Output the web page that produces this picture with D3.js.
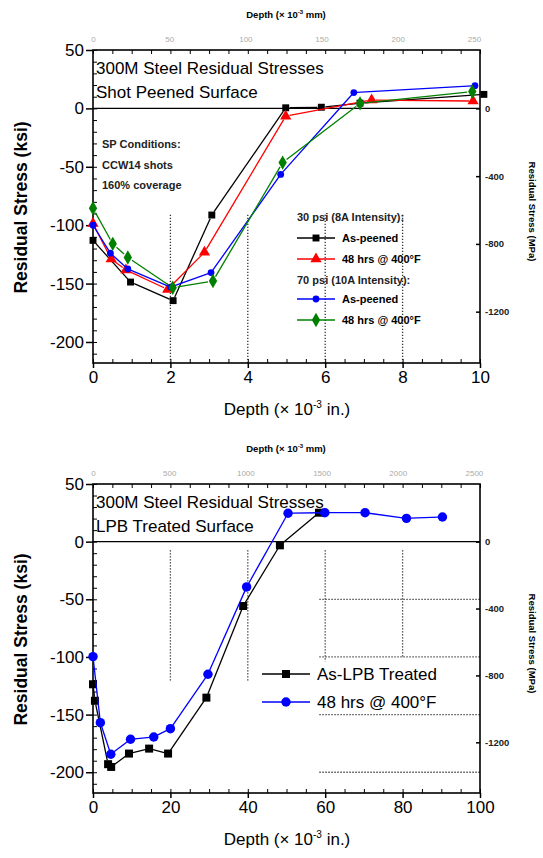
<!DOCTYPE html>
<html>
<head>
<meta charset="utf-8">
<script src="https://cdnjs.cloudflare.com/ajax/libs/d3/7.8.5/d3.min.js"></script>
<style>
  body { margin: 0; background: #fff; }
  svg { font-family: "Liberation Sans", Arial, sans-serif; }
</style>
</head>
<body>
<div id="chart"></div>
<script>
// ---- data: shot peened (top)
var sp30Asx = [0, 0.97, 2.07, 3.07, 4.98, 5.9, 6.9, 10.1];
var sp30Asy = [-113, -148.7, -164.6, -91.3, 0.5, 1, 4.5, 12];
var sp30Hx = [0, 0.47, 0.85, 1.93, 2.88, 4.98, 7.2, 9.82];
var sp30Hy = [-98.6, -129, -138.3, -155, -123.2, -6.7, 7.2, 6.3];
var sp70Asx = [0, 0.45, 0.9, 2.0, 3.05, 4.85, 6.74, 9.87];
var sp70Asy = [-100, -124, -137.5, -153, -140.6, -56.5, 13.6, 19.4];
var sp70Hx = [0, 0.51, 0.9, 2.06, 3.1, 4.9, 6.9, 9.8];
var sp70Hy = [-85.5, -116, -127.6, -153.6, -147.8, -46.4, 4.3, 14.4];

// ---- data: LPB (bottom)
var lpbAsx = [0, 0.5, 3.9, 4.7, 9.3, 14.5, 19.4, 29.3, 38.8, 48.3, 58.4];
var lpbAsy = [-123.7, -138, -193, -195.4, -183.8, -179.5, -183.8, -135.3, -55.8, -3.2, 25.1];
var lpbHx = [0, 1.9, 4.6, 9.7, 15.7, 20, 29.7, 39.7, 50.4, 59.9, 70.3, 81, 90.3];
var lpbHy = [-99.7, -157, -184.4, -171.4, -169.4, -162.2, -115, -39.3, 24.6, 25.1, 25.1, 20.2, 21.4];

var ksiTicks = [50, 0, -50, -100, -150, -200];
var mpaTicks = [0, -400, -800, -1200];
var spXTicks = [0, 2, 4, 6, 8, 10];
var spMmTicks = [0, 50, 100, 150, 200, 250];
var lpbXTicks = [0, 20, 40, 60, 80, 100];
var lpbMmTicks = [0, 500, 1000, 1500, 2000, 2500];

var spDotV = [[2, -91, -218], [4, -91, -218], [6, -91, -218], [8, -91, -218]];
var lpbDotV = [[20, -7.5, -121], [40, -7.5, -121], [60, -7.5, -104], [80, -7.5, -101]];
var lpbDotH = [[-50, 58.5, 100], [-100, 58.5, 100], [-150, 58.5, 100], [-200, 58.5, 100]];

var KSI_MPA = 6.895, IN_MM = 25.4;
var plain = function(d) { return String(d); };

var svg = d3.select("#chart").append("svg").attr("width", 543).attr("height", 858);

function drawChart(o) {
  var g = svg.append("g");
  var x = d3.scaleLinear().domain([0, o.xmax]).range([93, 480]);
  var y = d3.scaleLinear().domain([-218, 50]).range([o.bottom, o.top]);
  var xmm = d3.scaleLinear().domain([0, o.xmax * IN_MM]).range([93, 480]);
  var ympa = d3.scaleLinear().domain([-218 * KSI_MPA, 50 * KSI_MPA]).range([o.bottom, o.top]);

  // dotted reference lines
  (o.dotV || []).forEach(function(d) {
    g.append("line").attr("x1", x(d[0])).attr("x2", x(d[0])).attr("y1", y(d[1])).attr("y2", y(d[2]))
      .attr("stroke", "#333").attr("stroke-width", 1.3).attr("stroke-dasharray", "1.3,1.7");
  });
  (o.dotH || []).forEach(function(d) {
    g.append("line").attr("y1", y(d[0])).attr("y2", y(d[0])).attr("x1", x(d[1])).attr("x2", x(d[2]))
      .attr("stroke", "#333").attr("stroke-width", 1.3).attr("stroke-dasharray", "1.3,1.7");
  });

  // zero line
  g.append("line").attr("x1", x(0)).attr("x2", x(o.xmax)).attr("y1", y(0)).attr("y2", y(0))
    .attr("stroke", "#000").attr("stroke-width", 1.3);

  // frame
  g.append("rect").attr("x", 93).attr("y", o.top).attr("width", 387).attr("height", o.bottom - o.top)
    .attr("fill", "none").attr("stroke", "#000").attr("stroke-width", 1.6);

  // minor ticks (inside)
  g.append("g").attr("transform", "translate(93,0)")
    .call(d3.axisRight(y).ticks(27).tickSize(4).tickFormat(""))
    .call(function(s) { s.select(".domain").remove(); });
  g.append("g").attr("transform", "translate(0," + o.top + ")")
    .call(d3.axisBottom(x).ticks(20).tickSize(4).tickFormat(""))
    .call(function(s) { s.select(".domain").remove(); });
  g.append("g").attr("transform", "translate(0," + o.bottom + ")")
    .call(d3.axisTop(x).ticks(20).tickSize(4).tickFormat(""))
    .call(function(s) { s.select(".domain").remove(); });

  // left axis
  g.append("g").attr("transform", "translate(93,0)")
    .call(d3.axisLeft(y).tickValues(ksiTicks).tickFormat(plain).tickSize(7).tickPadding(2))
    .call(function(s) {
      s.select(".domain").remove();
      s.selectAll("line").attr("stroke-width", 1.5);
      s.selectAll("text").attr("font-size", 17).attr("fill", "#000").attr("font-family", "Liberation Sans, Arial");
    });

  // bottom axis
  g.append("g").attr("transform", "translate(0," + o.bottom + ")")
    .call(d3.axisBottom(x).tickValues(o.xTicks).tickFormat(plain).tickSize(5).tickPadding(3))
    .call(function(s) {
      s.select(".domain").remove();
      s.selectAll("line").attr("stroke-width", 1.5);
      s.selectAll("text").attr("font-size", 17).attr("fill", "#000").attr("font-family", "Liberation Sans, Arial");
    });

  // top mm axis (labels only)
  g.append("g").attr("transform", "translate(0," + o.top + ")")
    .call(d3.axisTop(xmm).tickValues(o.mmTicks).tickFormat(plain).tickSize(0).tickPadding(8))
    .call(function(s) {
      s.select(".domain").remove();
      s.selectAll("text").attr("font-size", 8).attr("fill", "#aaa").attr("font-family", "Liberation Sans, Arial");
    });

  // right MPa axis
  g.append("g").attr("transform", "translate(480,0)")
    .call(d3.axisLeft(ympa).tickValues(mpaTicks).tickSize(4).tickFormat(""))
    .call(function(s) { s.select(".domain").remove(); s.selectAll("line").attr("stroke-width", 1.5); });
  g.append("g").attr("transform", "translate(480,0)")
    .call(d3.axisRight(ympa).tickValues(mpaTicks).tickFormat(plain).tickSize(0).tickPadding(5))
    .call(function(s) {
      s.select(".domain").remove();
      s.selectAll("text").attr("font-size", 9.5).attr("font-weight", "bold").attr("fill", "#222")
        .attr("font-family", "Liberation Sans, Arial");
    });

  // axis titles
  var tt = g.append("text").attr("x", 286).attr("y", o.top - 32).attr("text-anchor", "middle")
    .attr("font-size", 9.5).attr("font-weight", "bold");
  tt.append("tspan").text("Depth (× 10");
  tt.append("tspan").text("-3").attr("font-size", 6).attr("dy", -4);
  tt.append("tspan").text(" mm)").attr("dy", 4);

  var bt = g.append("text").attr("x", 287).attr("y", o.bottom + 52).attr("text-anchor", "middle")
    .attr("font-size", 17);
  bt.append("tspan").text("Depth (× 10");
  bt.append("tspan").text("-3").attr("font-size", 10).attr("dy", -7);
  bt.append("tspan").text(" in.)").attr("dy", 7);

  g.append("text").attr("transform", "translate(27," + ((o.top + o.bottom) / 2 + 1) + ") rotate(-90)")
    .attr("text-anchor", "middle").attr("font-size", 17.5).attr("font-weight", "bold")
    .text("Residual Stress (ksi)");
  g.append("text").attr("transform", "translate(529," + ((o.top + o.bottom) / 2 + 5) + ") rotate(90)")
    .attr("text-anchor", "middle").attr("font-size", 9.5).attr("font-weight", "bold")
    .text("Residual Stress (MPa)");

  // chart title
  o.title.forEach(function(t, i) {
    g.append("text").attr("x", 96).attr("y", o.top + 24 + i * 24).attr("font-size", 17).text(t);
  });

  // series, lines broken around the symbols
  o.series.forEach(function(s) {
    var pts = s.x.map(function(v, i) { return [x(v), y(s.y[i])]; });
    var gap = s.gap;
    for (var i = 0; i < pts.length - 1; i++) {
      var a = pts[i], b = pts[i + 1];
      var dx = b[0] - a[0], dy = b[1] - a[1], L = Math.sqrt(dx * dx + dy * dy);
      if (L <= 2 * gap) continue;
      var ux = dx / L, uy = dy / L;
      g.append("line").attr("x1", a[0] + ux * gap).attr("y1", a[1] + uy * gap)
        .attr("x2", b[0] - ux * gap).attr("y2", b[1] - uy * gap)
        .attr("stroke", s.color).attr("stroke-width", 1.3);
    }
    g.append("g").selectAll("path").data(pts).enter().append("path")
      .attr("transform", function(d) { return "translate(" + d[0] + "," + d[1] + ")"; })
      .attr("d", d3.symbol().type(s.symbol).size(s.size))
      .attr("fill", s.color);
  });
}

function legendRow(x0, yc, len, s, label, fontSize, weight) {
  svg.append("line").attr("x1", x0).attr("x2", x0 + len).attr("y1", yc).attr("y2", yc)
    .attr("stroke", s.color).attr("stroke-width", 1.5);
  svg.append("path").attr("transform", "translate(" + (x0 + len / 2) + "," + yc + ")")
    .attr("d", d3.symbol().type(s.symbol).size(s.size)).attr("fill", s.color);
  svg.append("text").attr("x", x0 + len + 7).attr("y", yc + fontSize * 0.36)
    .attr("font-size", fontSize).attr("font-weight", weight).text(label);
}

var sBlack = { color: "#000", symbol: d3.symbolSquare, size: 48, gap: 4 };
var sRed = { color: "#ff0000", symbol: d3.symbolTriangle, size: 55, gap: 4 };
var sBlue = { color: "#0000ff", symbol: d3.symbolCircle, size: 36, gap: 3 };
var sGreen = { color: "#008000", symbol: d3.symbolDiamond, size: 60, gap: 5 };

drawChart({
  top: 50, bottom: 363, xmax: 10, xTicks: spXTicks, mmTicks: spMmTicks,
  dotV: spDotV,
  title: ["300M Steel Residual Stresses", "Shot Peened Surface"],
  series: [
    Object.assign({ x: sp30Asx, y: sp30Asy }, sBlack),
    Object.assign({ x: sp30Hx, y: sp30Hy }, sRed),
    Object.assign({ x: sp70Asx, y: sp70Asy }, sBlue),
    Object.assign({ x: sp70Hx, y: sp70Hy }, sGreen)
  ]
});

// SP conditions note
["SP Conditions:", "CCW14 shots", "160% coverage"].forEach(function(t, i) {
  svg.append("text").attr("x", 102).attr("y", 148 + i * 20.5).attr("font-size", 11)
    .attr("font-weight", "bold").attr("fill", "#222").text(t);
});

// top legend
svg.append("text").attr("x", 297).attr("y", 221).attr("font-size", 11).attr("font-weight", "bold")
  .attr("fill", "#222").text("30 psi (8A Intensity):");
legendRow(297, 238, 38, sBlack, "As-peened", 11, "bold");
legendRow(297, 259, 38, sRed, "48 hrs @ 400°F", 11, "bold");
svg.append("text").attr("x", 297).attr("y", 284).attr("font-size", 11).attr("font-weight", "bold")
  .attr("fill", "#222").text("70 psi (10A Intensity):");
legendRow(297, 299, 38, sBlue, "As-peened", 11, "bold");
legendRow(297, 320, 38, sGreen, "48 hrs @ 400°F", 11, "bold");

var lBlack = Object.assign({}, sBlack, { size: 64 });
var lBlue = Object.assign({}, sBlue, { size: 70, gap: 4 });

drawChart({
  top: 484, bottom: 793, xmax: 100, xTicks: lpbXTicks, mmTicks: lpbMmTicks,
  dotV: lpbDotV, dotH: lpbDotH,
  title: ["300M Steel Residual Stresses", "LPB Treated Surface"],
  series: [
    Object.assign({ x: lpbAsx, y: lpbAsy }, lBlack),
    Object.assign({ x: lpbHx, y: lpbHy }, lBlue)
  ]
});

legendRow(262, 674, 48, lBlack, "As-LPB Treated", 17, "normal");
legendRow(262, 702, 48, lBlue, "48 hrs @ 400°F", 17, "normal");
</script>
</body>
</html>
